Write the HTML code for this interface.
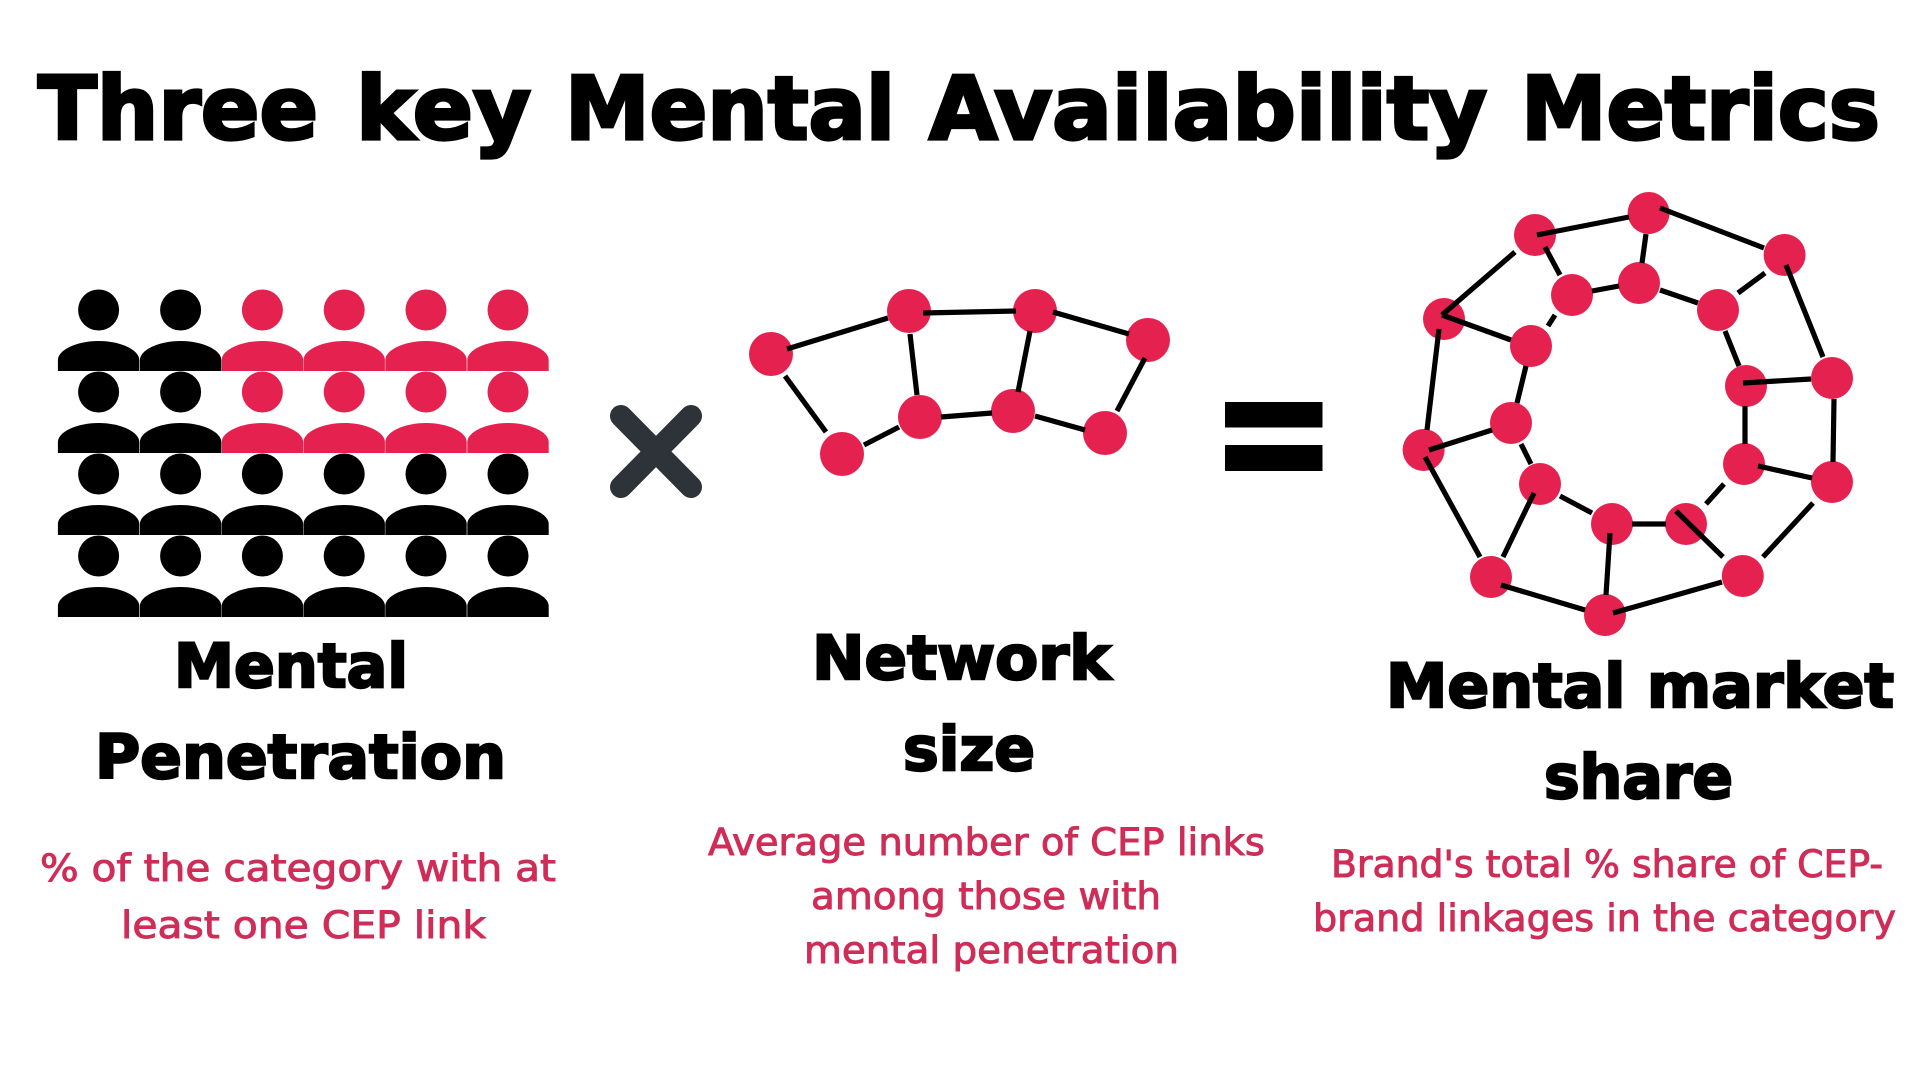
<!DOCTYPE html>
<html><head><meta charset="utf-8"><style>
html,body{margin:0;padding:0;background:#fff;width:1920px;height:1080px;overflow:hidden}
svg{display:block}
.h{font-family:"DejaVu Sans","Liberation Sans",sans-serif;font-weight:700;fill:#000;stroke:#000;stroke-width:2.4}
.t{stroke-width:3.2}
.r{font-family:"DejaVu Sans","Liberation Sans",sans-serif;font-size:37px;fill:#cf2c57;stroke:#cf2c57;stroke-width:.9}
.l line{stroke:#000;stroke-width:5.2}
</style></head><body>
<svg xmlns="http://www.w3.org/2000/svg" width="1920" height="1080" viewBox="0 0 1920 1080">
<rect width="1920" height="1080" fill="#fff"/>
<defs>
<g id="pb"><ellipse cx="0" cy="0" rx="20.5" ry="20.5"/><path d="M-40.7 61V50C-40.7 40-22 31 0 31S40.7 40 40.7 50V61Z"/></g>
</defs>
<text class="h t" x="38" y="139" font-size="87" textLength="280" lengthAdjust="spacingAndGlyphs">Three</text>
<text class="h t" x="356" y="139" font-size="87" textLength="175" lengthAdjust="spacingAndGlyphs">key</text>
<text class="h t" x="565" y="139" font-size="87" textLength="330" lengthAdjust="spacingAndGlyphs">Mental</text>
<text class="h t" x="929" y="139" font-size="87" textLength="558" lengthAdjust="spacingAndGlyphs">Availability</text>
<text class="h t" x="1521" y="139" font-size="87" textLength="359" lengthAdjust="spacingAndGlyphs">Metrics</text>
<g fill="#000">
<use href="#pb" x="98.6" y="310"/><use href="#pb" x="180.6" y="310"/>
<use href="#pb" x="98.6" y="392"/><use href="#pb" x="180.6" y="392"/>
<use href="#pb" x="98.6" y="474"/><use href="#pb" x="180.6" y="474"/><use href="#pb" x="262.4" y="474"/><use href="#pb" x="344.2" y="474"/><use href="#pb" x="426" y="474"/><use href="#pb" x="508" y="474"/>
<use href="#pb" x="98.6" y="556"/><use href="#pb" x="180.6" y="556"/><use href="#pb" x="262.4" y="556"/><use href="#pb" x="344.2" y="556"/><use href="#pb" x="426" y="556"/><use href="#pb" x="508" y="556"/>
</g>
<g fill="#e5214f">
<use href="#pb" x="262.4" y="310"/><use href="#pb" x="344.2" y="310"/><use href="#pb" x="426" y="310"/><use href="#pb" x="508" y="310"/>
<use href="#pb" x="262.4" y="392"/><use href="#pb" x="344.2" y="392"/><use href="#pb" x="426" y="392"/><use href="#pb" x="508" y="392"/>
</g>
<g stroke="#2d3338" stroke-width="22" stroke-linecap="round"><line x1="621" y1="416" x2="691" y2="487"/><line x1="691" y1="416" x2="621" y2="487"/></g>
<g fill="#e5214f">
<circle cx="771" cy="354" r="22"/><circle cx="909" cy="311" r="22"/><circle cx="1035" cy="311" r="22"/><circle cx="1148" cy="340" r="22"/><circle cx="842" cy="454" r="22"/><circle cx="920" cy="417" r="22"/><circle cx="1013" cy="411" r="22"/><circle cx="1105" cy="433" r="22"/>
</g>
<g class="l">
<line x1="787" y1="349" x2="888" y2="318"/><line x1="910" y1="334" x2="917" y2="395"/><line x1="785" y1="376" x2="826" y2="432"/><line x1="864" y1="445" x2="899" y2="427"/><line x1="923" y1="313" x2="1016" y2="311"/><line x1="941" y1="417" x2="992" y2="413"/><line x1="1030" y1="331" x2="1018" y2="392"/><line x1="1035" y1="416" x2="1085" y2="430"/><line x1="1053" y1="312" x2="1129" y2="334"/><line x1="1145" y1="358" x2="1117" y2="411"/>
</g>
<rect x="1225" y="402" width="97.5" height="25.5" fill="#000"/><rect x="1225" y="445" width="97.5" height="26" fill="#000"/>
<g fill="#e5214f">
<circle cx="1535" cy="235" r="21"/><circle cx="1648.6" cy="213" r="21"/><circle cx="1784.6" cy="255" r="21"/><circle cx="1832" cy="378" r="21"/><circle cx="1832" cy="482" r="21"/><circle cx="1742.8" cy="576" r="21"/><circle cx="1605" cy="615" r="21"/><circle cx="1491" cy="577" r="21"/><circle cx="1423.6" cy="450" r="21"/><circle cx="1444" cy="319" r="21"/>
<circle cx="1572" cy="295" r="21"/><circle cx="1639" cy="283" r="21"/><circle cx="1718" cy="310" r="21"/><circle cx="1746" cy="386" r="21"/><circle cx="1744" cy="464" r="21"/><circle cx="1686" cy="524" r="21"/><circle cx="1612" cy="524" r="21"/><circle cx="1540" cy="484" r="21"/><circle cx="1511" cy="423" r="21"/><circle cx="1531" cy="346" r="21"/>
</g>
<g class="l">
<line x1="1537" y1="235" x2="1629" y2="217"/><line x1="1660" y1="208" x2="1764" y2="248"/><line x1="1545" y1="247" x2="1560" y2="275"/><line x1="1646" y1="234" x2="1642" y2="263"/><line x1="1592" y1="291" x2="1619" y2="286"/><line x1="1660" y1="290" x2="1698" y2="303"/><line x1="1738" y1="293" x2="1765" y2="273"/><line x1="1786" y1="265" x2="1823" y2="357"/><line x1="1725" y1="331" x2="1739" y2="366"/><line x1="1743" y1="383" x2="1811" y2="379"/><line x1="1745" y1="406" x2="1745" y2="444"/><line x1="1834" y1="399" x2="1833" y2="462"/><line x1="1758" y1="466" x2="1812" y2="478"/><line x1="1813" y1="503" x2="1763" y2="557"/><line x1="1724" y1="484" x2="1706" y2="504"/><line x1="1632" y1="524" x2="1666" y2="524"/><line x1="1676" y1="511" x2="1723" y2="557"/><line x1="1610" y1="533" x2="1606" y2="595"/><line x1="1613" y1="613" x2="1722" y2="582"/><line x1="1501" y1="585" x2="1585" y2="610"/><line x1="1560" y1="496" x2="1592" y2="513"/><line x1="1534" y1="493" x2="1503" y2="557"/><line x1="1425" y1="457" x2="1480" y2="557"/><line x1="1429" y1="450" x2="1492" y2="430"/><line x1="1521" y1="444" x2="1531" y2="464"/><line x1="1526" y1="366" x2="1517" y2="403"/><line x1="1442" y1="315" x2="1511" y2="340"/><line x1="1439" y1="329" x2="1427" y2="430"/><line x1="1442" y1="315" x2="1515" y2="252"/><line x1="1555" y1="315" x2="1548" y2="326"/>
</g>
<text class="h" x="174" y="687" font-size="61" textLength="234" lengthAdjust="spacingAndGlyphs">Mental</text>
<text class="h" x="95" y="778" font-size="61" textLength="411" lengthAdjust="spacingAndGlyphs">Penetration</text>
<text class="h" x="812" y="679" font-size="61" textLength="299" lengthAdjust="spacingAndGlyphs">Network</text>
<text class="h" x="903" y="770" font-size="61" textLength="132" lengthAdjust="spacingAndGlyphs">size</text>
<text class="h" x="1386" y="707" font-size="61" textLength="508" lengthAdjust="spacingAndGlyphs">Mental market</text>
<text class="h" x="1544" y="798" font-size="61" textLength="189" lengthAdjust="spacingAndGlyphs">share</text>
<text class="r" x="40" y="881" textLength="516" lengthAdjust="spacingAndGlyphs">% of the category with at</text>
<text class="r" x="121" y="938" textLength="365" lengthAdjust="spacingAndGlyphs">least one CEP link</text>
<text class="r" x="708" y="855" textLength="557" lengthAdjust="spacingAndGlyphs">Average number of CEP links</text>
<text class="r" x="811" y="909" textLength="350" lengthAdjust="spacingAndGlyphs">among those with</text>
<text class="r" x="804" y="963" textLength="375" lengthAdjust="spacingAndGlyphs">mental penetration</text>
<text class="r" x="1331" y="877" textLength="552" lengthAdjust="spacingAndGlyphs">Brand's total % share of CEP-</text>
<text class="r" x="1313" y="931" textLength="583" lengthAdjust="spacingAndGlyphs">brand linkages in the category</text>
</svg>
</body></html>
